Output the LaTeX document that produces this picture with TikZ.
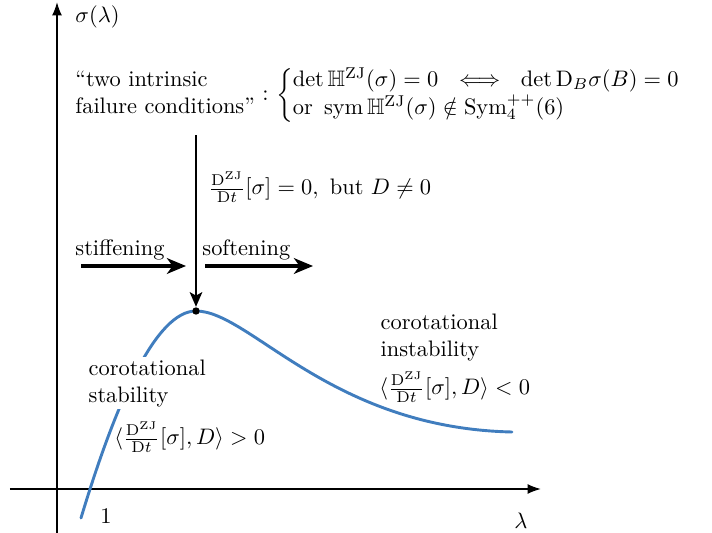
\documentclass[tikz,border=0pt]{standalone}
\usepackage{amsmath,amssymb}
\usetikzlibrary{arrows.meta}
\definecolor{curveblue}{RGB}{64,125,190}
\begin{document}
\begin{tikzpicture}[x=0.4464pt,y=-0.4464pt,
  axis/.style={line width=0.8pt,-{Latex[length=6pt,width=4.5pt]}},
  bigarrow/.style={line width=1.4pt,-{Stealth[length=8.5pt,width=7pt,inset=2.5pt]}},
  downarrow/.style={line width=1.3pt,-{Stealth[length=6.5pt,width=5.5pt,inset=1.5pt]}},
  lbl/.style={inner sep=0pt},
  curvestyle/.style={curveblue,line width=1.3pt,line cap=round}]
\useasboundingbox (0,0) rectangle (712,533);
% axes
\coordinate (yb) at (57,533);
\coordinate (yt) at (57,2);
\coordinate (xl) at (10,489);
\coordinate (xr) at (541,489);
\draw[axis] (yb) -- (yt);
\draw[axis] (xl) -- (xr);
\node[lbl,anchor=west] (ylab) at (75,17) {$\sigma(\lambda)$};
\node[lbl] (xlab) at (521,521) {$\lambda$};
\node[lbl] (one) at (106,516) {$1$};
% curve
\coordinate (c0) at (81,518);
\coordinate (c1) at (196,311);
\coordinate (c2) at (512,432);
\draw[curvestyle] (c0) .. controls (116,402) and (156,311) .. (c1)
  .. controls (250,311) and (330,428) .. (c2);
% peak
\node[circle,fill=black,inner sep=0pt,minimum size=3.3pt] (peak) at (196,311) {};
% top text
\node[lbl,anchor=west] (cond) at (75,95) {\begin{tabular}{@{}l@{}}“two intrinsic\\ failure conditions”\end{tabular}\ ${:}\,\left\{\begin{array}{@{}l@{}}
 \det\mathbb{H}^{\mathrm{ZJ}}(\sigma)=0\hspace{6.5pt}\Longleftrightarrow\hspace{6.5pt}\det\mathrm{D}_B\sigma(B)=0\\
 \text{or}\ \operatorname{sym}\mathbb{H}^{\mathrm{ZJ}}(\sigma)\notin\mathrm{Sym}_4^{++}(6)
 \end{array}\right.$};
% vertical arrow
\coordinate (vtop) at (196,135);
\draw[downarrow] (vtop) -- (peak.north);
\node[lbl,anchor=west] (zero) at (208,187) {$\frac{\mathrm{D}^{\mathrm{ZJ}}}{\mathrm{D}t}[\sigma]=0,\ \text{but } D\neq0$};
% stiffening / softening
\node[lbl,anchor=base west] (stiff) at (75,255) {stiffening};
\node[lbl,anchor=base west] (soft) at (202,255) {softening};
\coordinate (s1) at (81,266);
\coordinate (s2) at (186,266);
\coordinate (f1) at (205,266);
\coordinate (f2) at (313,266);
\draw[bigarrow] (s1) -- (s2);
\draw[bigarrow] (f1) -- (f2);
% stability
\node[anchor=north west,align=left,fill=white,inner sep=1pt] (stab) at (86,357) {corotational\\stability};
\node[lbl,anchor=west] (stabf) at (114,437) {$\langle\frac{\mathrm{D}^{\mathrm{ZJ}}}{\mathrm{D}t}[\sigma],D\rangle>0$};
% instability
\node[anchor=north west,align=left,inner sep=1pt] (inst) at (378,311) {corotational\\instability};
\node[lbl,anchor=west] (instf) at (379,387) {$\langle\frac{\mathrm{D}^{\mathrm{ZJ}}}{\mathrm{D}t}[\sigma],D\rangle<0$};
\end{tikzpicture}
\end{document}
